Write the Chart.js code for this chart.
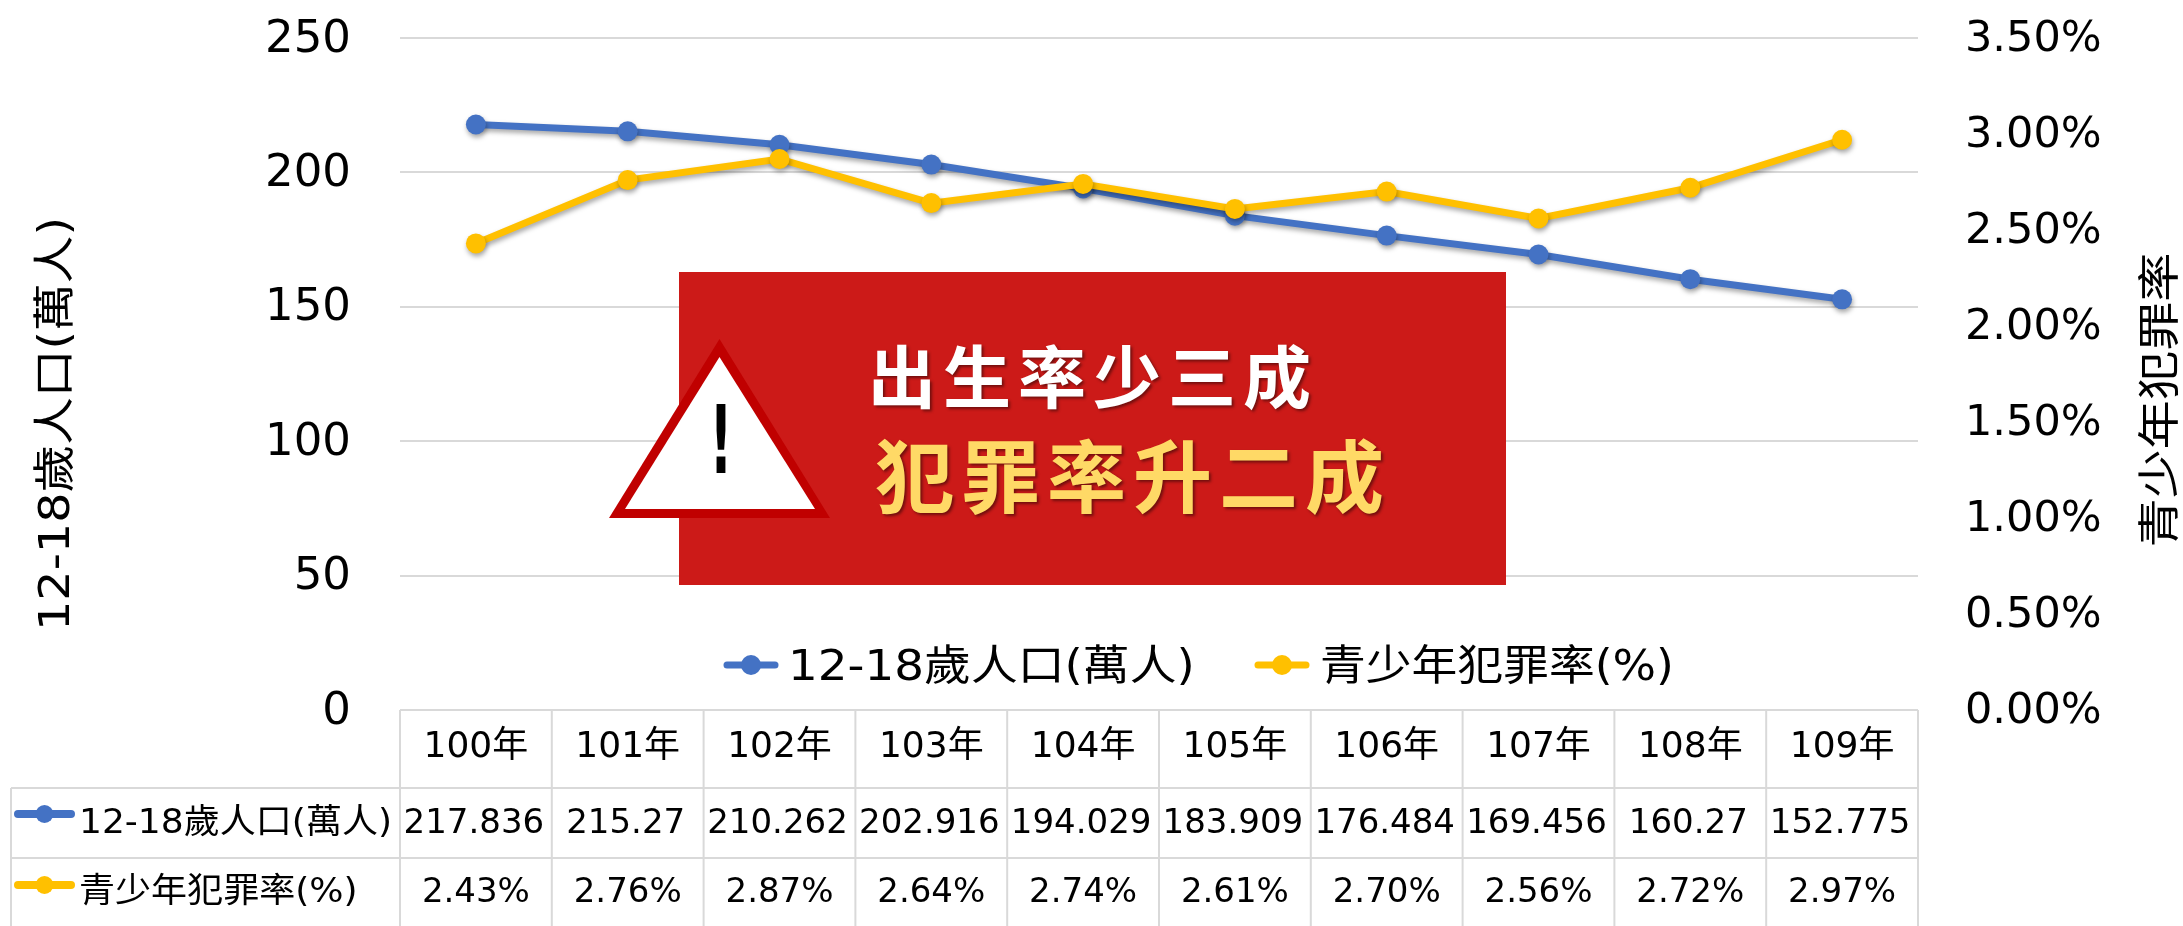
<!DOCTYPE html>
<html><head><meta charset="utf-8">
<style>html,body{margin:0;padding:0;background:#fff;overflow:hidden}canvas{display:block}</style>
<script src="https://cdn.jsdelivr.net/npm/chart.js@4"></script>
</head><body><canvas id="c" width="2183" height="926"></canvas>
<script>
const categories=['100年','101年','102年','103年','104年','105年','106年','107年','108年','109年'];
const population=[217.836,215.27,210.262,202.916,194.029,183.909,176.484,169.456,160.27,152.775];
const crimeRate=[2.43,2.76,2.87,2.64,2.74,2.61,2.70,2.56,2.72,2.97];
const popName='12-18歲人口(萬人)';
const crimeName='青少年犯罪率(%)';
const leftTitle='12-18歲人口(萬人)';
const rightTitle='青少年犯罪率';
const bannerLine1='出生率少三成';
const bannerLine2='犯罪率升二成';
const BLUE='#4472c4',GOLD='#ffc000',GRID='#d9d9d9',FONT='"DejaVu Sans","Noto Sans CJK TC",sans-serif',CJK='"Noto Sans CJK TC",sans-serif';

function key(ctx,x1,x2,y,color,r,w){
  ctx.save();ctx.strokeStyle=color;ctx.fillStyle=color;ctx.lineWidth=w;ctx.lineCap='round';
  ctx.beginPath();ctx.moveTo(x1,y);ctx.lineTo(x2,y);ctx.stroke();
  ctx.beginPath();ctx.arc((x1+x2)/2,y,r,0,Math.PI*2);ctx.fill();ctx.restore();
}
// text stretched along its run, as in the reference
function wide(c,str,x,y,sx,rot){
  c.save();c.translate(x,y);if(rot)c.rotate(rot);c.scale(sx,1);c.fillText(str,0,0);c.restore();
}
const extras={
  id:'extras',
  beforeDatasetDraw(chart){const c=chart.ctx;c.save();c.shadowColor='rgba(0,0,0,.35)';c.shadowBlur=5;c.shadowOffsetX=1;c.shadowOffsetY=3;},
  afterDatasetDraw(chart){chart.ctx.restore();},
  afterDraw(chart){
    const c=chart.ctx,a=chart.chartArea,xs=chart.scales.x;
    c.save();
    const rowTop=a.bottom,row1=788,row2=858,tableBottom=926,tableLeft=11;
    c.strokeStyle=GRID;c.lineWidth=2;c.beginPath();
    c.moveTo(a.left,rowTop);c.lineTo(a.right,rowTop);
    c.moveTo(tableLeft,row1);c.lineTo(a.right,row1);
    c.moveTo(tableLeft,row2);c.lineTo(a.right,row2);
    c.moveTo(tableLeft,row1);c.lineTo(tableLeft,tableBottom);
    const w=(a.right-a.left)/categories.length;
    for(let i=0;i<=categories.length;i++){const x=a.left+i*w;c.moveTo(x,rowTop);c.lineTo(x,tableBottom);}
    c.stroke();
    c.fillStyle='#000';c.textBaseline='middle';c.textAlign='center';c.font='34px '+FONT;
    categories.forEach((_,i)=>{const x=xs.getPixelForValue(i);
      c.fillText(String(population[i]),x-2,824);
      c.fillText(crimeRate[i].toFixed(2)+'%',x,893);});
    c.textAlign='left';c.font='34px '+FONT;
    wide(c,popName,79,824,1.06);wide(c,crimeName,79,893,1.06);
    key(c,18,71,814,BLUE,9,8);key(c,18,71,885,GOLD,9,8);
    c.font='42px '+FONT;
    key(c,727,775,665,BLUE,10,7);key(c,1258,1306,665,GOLD,10,7);
    wide(c,popName,788,669,1.115);wide(c,crimeName,1320,669,1.09);
    c.textAlign='center';c.font='42px '+FONT;
    wide(c,leftTitle,58,424,1.135,-Math.PI/2);
    c.font='42px '+CJK;
    wide(c,rightTitle,2158,400,1.17,-Math.PI/2);
    c.fillStyle='#cc1a18';c.fillRect(679,272,827,313);
    c.beginPath();c.moveTo(719.5,339);c.lineTo(830,518);c.lineTo(609,518);c.closePath();c.fillStyle='#c00000';c.fill();
    c.beginPath();c.moveTo(719.5,357);c.lineTo(815,509);c.lineTo(625,509);c.closePath();c.fillStyle='#fff';c.fill();
    c.fillStyle='#000';c.textAlign='center';c.font='bold 72px "DejaVu Sans"';
    c.save();c.translate(721,449);c.scale(0.7,1.3);c.fillText('!',0,0);c.restore();
    c.textAlign='left';c.shadowColor='rgba(0,0,0,.45)';c.shadowBlur=3;c.shadowOffsetX=2;c.shadowOffsetY=2;
    c.letterSpacing='7px';c.font='700 68px '+CJK;c.fillStyle='#fff';c.fillText(bannerLine1,868,377);
    c.letterSpacing='7px';c.font='700 79px '+CJK;c.fillStyle='#ffd966';c.fillText(bannerLine2,875,477);
    c.restore();
  }
};
new Chart(document.getElementById('c'),{
  type:'line',
  plugins:[extras],
  data:{labels:categories,datasets:[
    {label:popName,data:population,yAxisID:'y',order:2,borderColor:BLUE,backgroundColor:BLUE,borderWidth:7,pointRadius:10,pointBackgroundColor:BLUE,pointBorderWidth:0,tension:0},
    {label:crimeName,data:crimeRate,yAxisID:'y1',order:1,borderColor:GOLD,backgroundColor:GOLD,borderWidth:7,pointRadius:10,pointBackgroundColor:GOLD,pointBorderWidth:0,tension:0}
  ]},
  options:{
    responsive:false,animation:false,devicePixelRatio:1,
    layout:{padding:{top:38,left:0,right:0,bottom:0}},
    plugins:{legend:{display:false},tooltip:{enabled:false},title:{display:false}},
    scales:{
      x:{offset:true,afterFit(s){s.height=216;},grid:{display:false,drawTicks:false},border:{display:false},
         ticks:{color:'#000',font:{family:FONT,size:36},padding:16,maxRotation:0}},
      y:{min:0,max:250,afterFit(s){s.width=400;s.paddingTop=0;},
         ticks:{stepSize:50,color:'#000',font:{family:FONT,size:45},padding:49,labelOffset:2},
         grid:{color:GRID,lineWidth:2,drawTicks:false},border:{display:false}},
      y1:{position:'right',min:0,max:3.5,afterFit(s){s.width=265;s.paddingTop=0;},
         ticks:{stepSize:0.5,color:'#000',font:{family:FONT,size:43},padding:47,labelOffset:2,callback:v=>v.toFixed(2)+'%'},
         grid:{display:false,drawTicks:false},border:{display:false}}
    }
  }
});
</script></body></html>
